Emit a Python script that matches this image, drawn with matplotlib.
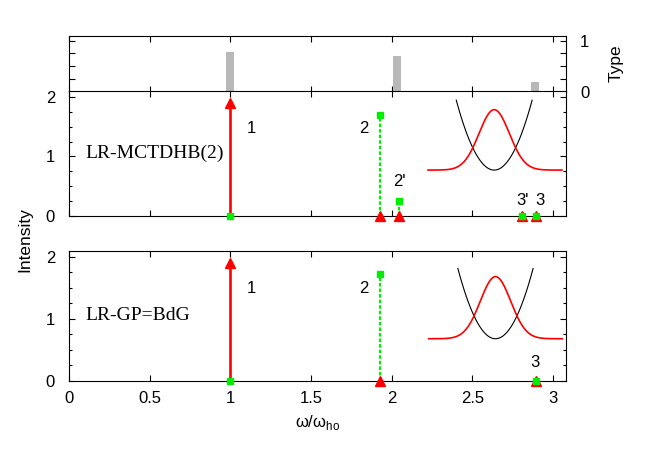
import matplotlib as mpl
mpl.use("Agg")
import matplotlib.pyplot as plt
import numpy as np
from matplotlib.ticker import MultipleLocator

mpl.rcParams.update({
    "font.family": ["Liberation Sans", "DejaVu Sans"],
    "font.size": 12,
    "axes.linewidth": 0.8,
    "xtick.direction": "in",
    "ytick.direction": "in",
    "xtick.major.size": 4,
    "ytick.major.size": 4,
    "ytick.minor.size": 2.5,
    "xtick.major.width": 0.8,
    "ytick.major.width": 0.8,
    "ytick.minor.width": 0.8,
})

RED = "#ff0000"
GREEN = "#00ee00"
BAR = "#b8b8b8"

# ── top panel: mode type ────────────────────────────────────
type_x = [0.995, 2.03, 2.885]
type_val = [0.78, 0.69, 0.18]

# ── LR-MCTDHB(2) ────────────────────────────────────────────
mc_x = [0.997, 1.93, 2.047, 2.81, 2.897]
mc_red = [1.90, 0.0, 0.0, 0.0, 0.0]
mc_green = [0.0, 1.70, 0.25, 0.0, 0.0]
mc_labels = ["1", "2", "2'", "3'", "3"]
mc_label_x = [1.13, 1.83, 2.05, 2.81, 2.92]
mc_label_y = [1.47, 1.47, 0.57, 0.26, 0.26]

# ── LR-GP=BdG ───────────────────────────────────────────────
gp_x = [0.997, 1.93, 2.897]
gp_red = [1.90, 0.0, 0.0]
gp_green = [0.0, 1.72, 0.0]
gp_labels = ["1", "2", "3"]
gp_label_x = [1.13, 1.83, 2.89]
gp_label_y = [1.49, 1.49, 0.29]

# inset sketch: (center, base, parabola top, parabola half-width,
#                gaussian peak, gaussian sigma, x from, x to)
mc_sketch = (2.635, 0.77, 1.95, 0.235, 1.79, 0.094, 2.225, 3.055)
gp_sketch = (2.643, 0.68, 1.81, 0.233, 1.68, 0.094, 2.229, 3.058)

W, H = 653, 457
fig = plt.figure(figsize=(W / 100, H / 100), dpi=100)
left, right = 69 / W, 566 / W


def ax_at(top_px, bot_px):
    return fig.add_axes([left, 1 - bot_px / H, right - left, (bot_px - top_px) / H])


ax_t = ax_at(35.7, 91.5)
ax_m = ax_at(91.3, 215.7)
ax_b = ax_at(250.5, 381.0)

for ax in (ax_t, ax_m, ax_b):
    ax.set_xlim(0, 3.08)
    ax.xaxis.set_major_locator(MultipleLocator(0.5))
    ax.tick_params(which="both", top=True, right=True)
    ax.tick_params(axis="y", pad=10)
    ax.tick_params(axis="x", pad=7)

# top panel
ax_t.bar(type_x, type_val, width=0.05, color=BAR, zorder=2)
ax_t.set_ylim(0, 1.1)
ax_t.set_yticks([0, 0.25, 0.5, 0.75, 1], labels=["0", "", "", "", "1"])
ax_t.tick_params(labelleft=False, labelright=True, labelbottom=False)
ax_t.set_ylabel("Type", rotation=90, labelpad=14, fontsize=12.5)
ax_t.yaxis.set_label_position("right")


def spectrum(ax, xs, red, green, labels, lx, ly, name, sketch):
    ax.set_ylim(0, 2.1)
    ax.set_yticks([0, 1, 2])
    ax.yaxis.set_minor_locator(MultipleLocator(0.25))
    ax.vlines(xs, 0, green, colors=GREEN, linestyles=(0, (1.6, 0.9)), lw=1.6, zorder=2)
    ax.vlines(xs, 0, red, colors=RED, lw=1.9, zorder=3)
    ax.plot(xs, red, "^", color=RED, ms=6.5, ls="none", clip_on=False, zorder=4)
    ax.plot(xs, green, "s", color=GREEN, ms=4.8, ls="none", clip_on=False, zorder=5)
    for t, x, y in zip(labels, lx, ly):
        ax.text(x, y, t, ha="center", va="center", fontsize=12)
    ax.text(0.10, 1.05, name, family="Liberation Serif", fontsize=14,
            ha="left", va="center")
    c, base, ptop, phw, gpk, sig, x0, x1 = sketch
    xp = np.linspace(c - phw, c + phw, 100)
    ax.plot(xp, base + (ptop - base) * ((xp - c) / phw) ** 2, color="black", lw=0.8)
    xg = np.linspace(x0, x1, 200)
    ax.plot(xg, base + (gpk - base) * np.exp(-(xg - c) ** 2 / (2 * sig ** 2)),
            color=RED, lw=1.2)


spectrum(ax_m, mc_x, mc_red, mc_green, mc_labels, mc_label_x, mc_label_y,
         "LR-MCTDHB(2)", mc_sketch)
ax_m.tick_params(labelbottom=False)
spectrum(ax_b, gp_x, gp_red, gp_green, gp_labels, gp_label_x, gp_label_y,
         "LR-GP=BdG", gp_sketch)
ax_b.set_xticks([0, 0.5, 1, 1.5, 2, 2.5, 3], labels=["0", "0.5", "1", "1.5", "2", "2.5", "3"])
ax_b.set_xlabel(r"ω/ω$_\mathregular{ho}$", fontsize=12, labelpad=5)

fig.text(25 / W, 1 - 240 / H, "Intensity", rotation=90, ha="center", va="center", fontsize=12.5)

fig.savefig("out.png", dpi=100)
